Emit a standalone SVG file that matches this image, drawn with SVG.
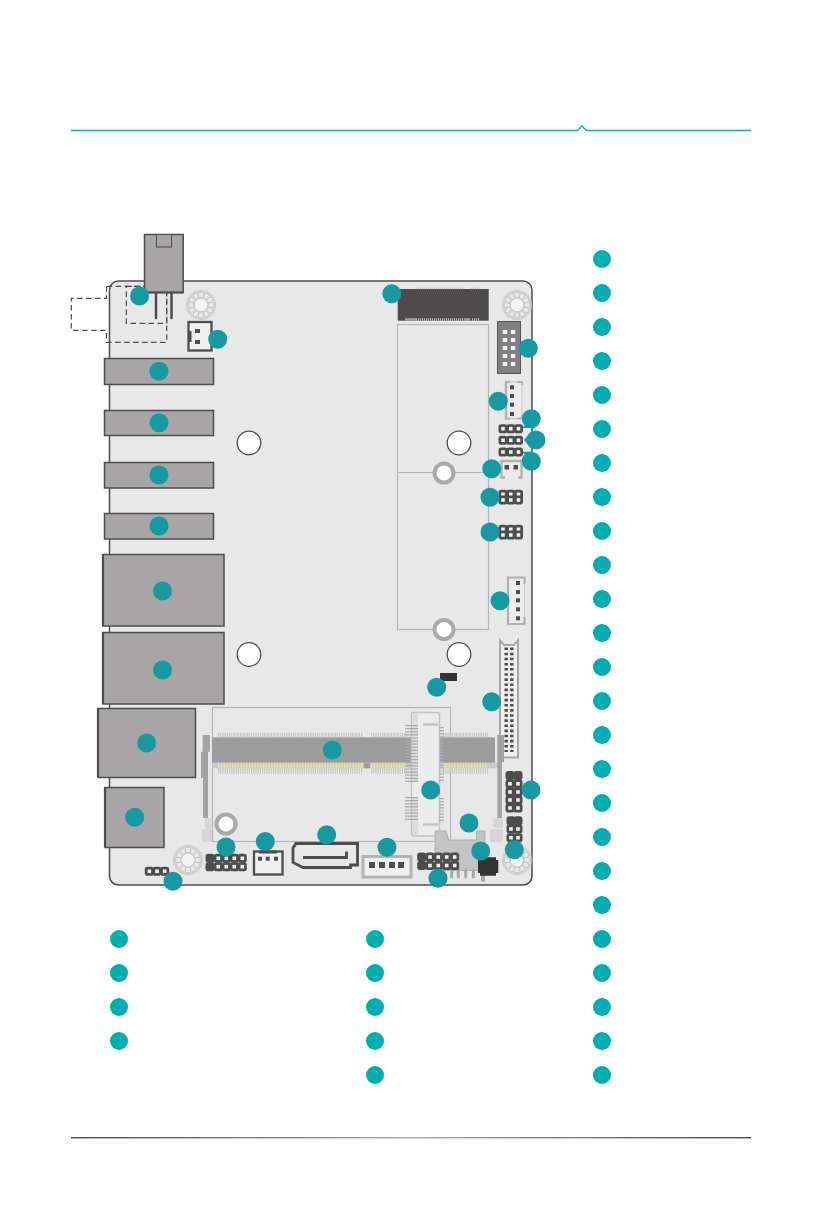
<svg xmlns="http://www.w3.org/2000/svg" width="823" height="1220" viewBox="0 0 823 1220">
<style>
.dark{fill:#a7a5a5;stroke:#4d4d4d;stroke-width:1.5}
.dot{fill:#169aa2}
.leg{fill:#00adb1}
.hole{fill:#fff;stroke:#4d4d4d;stroke-width:1.3}
.ring{fill:#fff;stroke:#a9a9a9;stroke-width:4}
.conn{fill:#f0f0f0;stroke:#4d4d4d;stroke-width:2.300}
.sq{fill:#4d4d4d}
.dash{fill:none;stroke:#4d4d4d;stroke-width:1.2;stroke-dasharray:5.500 3.500}
.pale{fill:#d6d6d6}
.lat{fill:#a3a3a3}
.outline{fill:none;stroke:#b5b5b5;stroke-width:1.2}
</style>
<defs>
<g id="mount" fill="none" stroke="#c6c6c6" stroke-width="0.900">
<circle r="14.700"/><circle r="13.500"/><circle r="6.800" fill="#f4f4f4"/>
<circle cx="10" r="3"/><circle cx="-10" r="3"/><circle cy="10" r="3"/><circle cy="-10" r="3"/>
<circle cx="8.700" cy="5" r="3"/><circle cx="5" cy="8.700" r="3"/><circle cx="-5" cy="8.700" r="3"/><circle cx="-8.700" cy="5" r="3"/>
<circle cx="-8.700" cy="-5" r="3"/><circle cx="-5" cy="-8.700" r="3"/><circle cx="5" cy="-8.700" r="3"/><circle cx="8.700" cy="-5" r="3"/>
</g>
<g id="pin"><rect x="-4.500" y="-4.500" width="9" height="9" rx="2.800" fill="#4d4d4d"/><rect x="-1.800" y="-1.800" width="3.600" height="3.600" fill="#efefef"/></g>
<g id="pin1"><rect x="-4.500" y="-4.500" width="9" height="9" rx="2.800" fill="#4d4d4d"/></g>
<linearGradient id="bl" x1="0" x2="1" y1="0" y2="0"><stop offset="0" stop-color="#4a4a4a"/><stop offset="0.5" stop-color="#a8a8a8"/><stop offset="1" stop-color="#4a4a4a"/></linearGradient>
</defs>

<g id="page-rules">
<path d="M71 130.500H577.500L582 126L586.500 130.500H751" fill="none" stroke="#00b0b5" stroke-width="1.300"/>
<rect x="71" y="1137" width="680" height="1.400" fill="url(#bl)"/>
</g>

<g id="board"><rect x="109.500" y="281" width="422.500" height="604" rx="9" fill="#e8e8e8" stroke="#4d4d4d" stroke-width="1.500"/></g>

<g id="mounts"><use href="#mount" x="201" y="305"/><use href="#mount" x="517" y="305"/><use href="#mount" x="188" y="860"/><use href="#mount" x="517" y="860"/></g>
<g id="holes">
<circle class="hole" cx="249" cy="443" r="11.800"/><circle class="hole" cx="459" cy="443" r="11.800"/><circle class="hole" cx="249" cy="654.500" r="11.800"/><circle class="hole" cx="459" cy="654.500" r="11.800"/>
</g>

<g id="m2-outline">
<rect class="outline" x="397.500" y="324.500" width="91" height="305"/><path class="outline" d="M397.500 472.500H488.500"/>
<circle class="ring" cx="444" cy="473" r="9.500"/><circle class="ring" cx="444" cy="629.500" r="9.500"/>
</g>

<g id="power-jack">
<path class="dash" d="M106.500 286.300V298.300H71.300V330.300H106.500V342.300H166.700V286.300H106.500"/>
<rect class="dash" x="126.300" y="286.300" width="40.400" height="37"/>
<rect class="dark" x="144.500" y="234.500" width="38.700" height="58"/>
<rect x="156.500" y="234.500" width="15" height="12.500" fill="#a7a5a5" stroke="#4d4d4d" stroke-width="1"/>
<path d="M144.500 292.500H183" stroke="#4d4d4d" stroke-width="2"/>
<path d="M156 293V318M171.500 293V318" stroke="#4d4d4d" stroke-width="2.500" stroke-linecap="round"/>
</g>
<g id="conn-top-left">
<rect class="conn" x="188.500" y="322" width="23" height="28.500"/>
<rect class="sq" x="188" y="331" width="3.500" height="11"/>
<rect class="sq" x="195" y="329" width="5" height="4"/><rect class="sq" x="195" y="340" width="5" height="4"/>
</g>
<g id="ports">
<rect class="dark" x="104.500" y="358.500" width="109" height="26"/>
<rect class="dark" x="104.500" y="410.500" width="109" height="25"/>
<rect class="dark" x="104.500" y="462.500" width="109" height="25.500"/>
<rect class="dark" x="104.500" y="513.500" width="109" height="25.500"/>
<rect class="dark" x="103" y="554.500" width="121" height="71.500"/>
<rect class="dark" x="103" y="632.500" width="121" height="71.500"/>
<rect class="dark" x="98" y="708.500" width="97.500" height="69"/>
<rect class="dark" x="105" y="787.500" width="59" height="60"/>
<path d="M103 554V626M103 632V704M98 708V777M105 787V847" stroke="#4d4d4d" stroke-width="2.200"/>
</g>
<g id="m2-slot">
<rect x="397.700" y="289" width="91" height="31.700" fill="#4d4b4c"/>
<path d="M416 319.500H464M472 319.500H480" stroke="#bdbdbd" stroke-width="2.500" stroke-dasharray="1 1"/>
<path d="M405 319.500H416M464 319.500H470" stroke="#a0a0a0" stroke-width="2.500"/>
<path d="M416 288.500H463M471 288.500H481" stroke="#bdbdbd" stroke-width="1.500" stroke-dasharray="1 1"/>
</g>
<g id="header-grey">
<rect x="497.500" y="321.500" width="23" height="52" fill="#808080" stroke="#555" stroke-width="1"/>
<path d="M505 330V366M513 330V366" stroke="#efefef" stroke-width="4.500" stroke-dasharray="4 4"/>
</g>
<g id="conn-4v">
<rect x="506" y="382" width="16" height="36.500" fill="#ececec" stroke="#c8c8c8" stroke-width="1"/>
<path d="M510 382H506V418.500H510" fill="none" stroke="#b3b3b3" stroke-width="2.500"/>
<path d="M517 382H522.300V385M517 418.500H522.300V415" fill="none" stroke="#b3b3b3" stroke-width="2"/>
<rect class="sq" x="510" y="385.300" width="4" height="4"/><rect class="sq" x="510" y="394" width="4" height="4"/><rect class="sq" x="510" y="402.700" width="4" height="4"/><rect class="sq" x="510" y="412" width="4" height="4"/>
</g>
<g id="hdr-3x3">
<use href="#pin" x="503" y="428.700"/><use href="#pin" x="510.800" y="428.700"/><use href="#pin" x="518.500" y="428.700"/>
<use href="#pin" x="503" y="440.300"/><use href="#pin" x="510.800" y="440.300"/><use href="#pin" x="518.500" y="440.300"/>
<use href="#pin" x="503" y="452"/><use href="#pin" x="510.800" y="452"/><use href="#pin" x="518.500" y="452"/>
</g>
<g id="conn-2">
<rect x="501.500" y="461" width="20" height="17" fill="#ebebeb"/>
<path d="M501.500 478V461H521.500V478M500.500 477.500H505M518 477.500H522.500" fill="none" stroke="#b0b0b0" stroke-width="2.300"/>
<rect class="sq" x="504.500" y="465" width="4.500" height="4.500"/><rect class="sq" x="513.500" y="465" width="4.500" height="4.500"/>
</g>
<g id="hdr-a">
<use href="#pin" x="503" y="494.300"/><use href="#pin" x="510.800" y="494.300"/><use href="#pin" x="518.500" y="494.300"/>
<use href="#pin" x="503" y="500"/><use href="#pin" x="510.800" y="500"/><use href="#pin" x="518.500" y="500"/>
</g>
<g id="hdr-b">
<use href="#pin" x="503" y="529.300"/><use href="#pin" x="510.800" y="529.300"/><use href="#pin" x="518.500" y="529.300"/>
<use href="#pin" x="503" y="535"/><use href="#pin" x="510.800" y="535"/><use href="#pin" x="518.500" y="535"/>
</g>
<g id="conn-5v">
<rect x="508" y="578" width="16.500" height="46" fill="#ececec" stroke="#c8c8c8" stroke-width="1"/>
<path d="M508 578V624M507 577.500H524.500M507 624H524.500M524.500 577V584M524.500 617V624.500" fill="none" stroke="#b0b0b0" stroke-width="2.200"/>
<rect class="sq" x="516" y="581" width="4" height="4"/><rect class="sq" x="516" y="590" width="4" height="4"/><rect class="sq" x="516" y="598.300" width="4" height="4"/><rect class="sq" x="516" y="607.300" width="4" height="4"/><rect class="sq" x="516" y="616.300" width="4" height="4"/>
</g>
<g id="lvds">
<path d="M500 640.500L504 645H514L518 640.500V757.500H500Z" fill="#efefef" stroke="#a8a8a8" stroke-width="2"/>
<path d="M506.200 647.500V752M511.800 647.500V752" stroke="#4d4d4d" stroke-width="3.400" stroke-dasharray="2.600 2.530"/>
</g>
<g id="jumper"><rect x="440" y="673" width="17" height="8" fill="#333"/></g>

<g id="sodimm">
<rect class="outline" x="212.500" y="707.500" width="238" height="134"/>
<rect x="212" y="737.300" width="283" height="25.500" fill="#9c9c9c"/>
<rect x="212" y="762.800" width="288" height="5.500" fill="#c9c9c9"/>
<path d="M218 765.500H363M371 765.500H407M443 765.500H488" stroke="#e7e59a" stroke-width="5" stroke-dasharray="1.500 1.300"/>
<path d="M218 735H363M371 735H407M443 735H488" stroke="#c6c6c6" stroke-width="4.500" stroke-dasharray="1.200 1"/>
<path d="M218 771H363M371 771H407M443 771H488" stroke="#c6c6c6" stroke-width="5.500" stroke-dasharray="1.200 1"/>
<rect x="364" y="762.800" width="6" height="5.500" fill="#9c9c9c"/>
<path class="lat" d="M202.700 735H210V751.700H208V818H203V778H201V751.700H202.700Z"/>
<path class="lat" d="M497.300 735H504V762H502V818H497.300V762Z"/>
<rect class="pale" x="205" y="818" width="6.500" height="11" rx="3"/>
<rect class="pale" x="202" y="829" width="10" height="13" rx="1.500"/>
<rect class="pale" x="493" y="818" width="10" height="10" rx="3"/>
<rect class="pale" x="490" y="829" width="13" height="13" rx="1.500"/>
<circle class="ring" cx="226" cy="824" r="9.500"/>
</g>
<g id="mpcie">
<rect x="411.500" y="712.500" width="28" height="123.500" rx="2" fill="#ececec" stroke="#c3c3c3" stroke-width="1.500"/>
<path d="M412 713H418V782H412ZM412 797H418V835H412Z" fill="#dcdcdc"/>
<path d="M411.500 725V782M411.500 797V820" stroke="#ababab" stroke-width="13" stroke-dasharray="1.200 1.900"/>
<path d="M441.500 727V783M441.500 798V823" stroke="#ababab" stroke-width="5" stroke-dasharray="1.200 1.900"/>
<path d="M423 724.500H438M423 824.500H438" stroke="#c3c3c3" stroke-width="2.500"/>
</g>
<g id="hdr-right1">
<use href="#pin1" x="510" y="775.500"/><use href="#pin1" x="518" y="775.500"/>
<use href="#pin" x="510" y="783.800"/><use href="#pin" x="518" y="783.800"/>
<use href="#pin" x="510" y="792"/><use href="#pin" x="518" y="792"/>
<use href="#pin" x="510" y="800"/><use href="#pin" x="518" y="800"/>
<use href="#pin" x="510" y="808"/><use href="#pin" x="518" y="808"/>
</g>
<g id="hdr-right2">
<use href="#pin1" x="511" y="820.700"/><use href="#pin1" x="518" y="820.700"/>
<use href="#pin" x="511" y="829"/><use href="#pin" x="518" y="829"/>
<use href="#pin" x="511" y="837.700"/><use href="#pin" x="518" y="837.700"/>
</g>
<g id="batt">
<path d="M435 831H446L448.500 840H476.700V831H485V870.500H435Z" fill="#c4c4c4" stroke="#adadad" stroke-width="1"/>
<path d="M451.700 870V877M458.300 870V877M465.700 870V877M473.300 870V877" stroke="#a9a9a9" stroke-width="3" stroke-linecap="round"/>
<path d="M483 874V880" stroke="#a9a9a9" stroke-width="4" stroke-linecap="round"/>
<path d="M480 857.300H496V860H498.300V873H496V875.700H480V873H478V860H480Z" fill="#333"/>
</g>
<g id="hdr-bottom">
<use href="#pin1" x="421.700" y="857"/><use href="#pin" x="430" y="857"/><use href="#pin" x="438.300" y="857"/><use href="#pin" x="446.700" y="857"/><use href="#pin" x="454.700" y="857"/>
<use href="#pin1" x="421.700" y="865.500"/><use href="#pin" x="430" y="865.500"/><use href="#pin" x="438.300" y="865.500"/><use href="#pin" x="446.700" y="865.500"/><use href="#pin" x="454.700" y="865.500"/>
</g>
<g id="hdr-left">
<use href="#pin1" x="210" y="858.300"/><use href="#pin" x="218.300" y="858.300"/><use href="#pin" x="226.300" y="858.300"/><use href="#pin" x="234.300" y="858.300"/><use href="#pin" x="242.300" y="858.300"/>
<use href="#pin1" x="210" y="866.700"/><use href="#pin" x="218.300" y="866.700"/><use href="#pin" x="226.300" y="866.700"/><use href="#pin" x="234.300" y="866.700"/><use href="#pin" x="242.300" y="866.700"/>
</g>
<g id="hdr-3">
<use href="#pin" x="149.300" y="871.300"/><use href="#pin" x="157" y="871.300"/><use href="#pin" x="164.700" y="871.300"/>
</g>
<g id="fan">
<rect class="conn" x="254" y="851.500" width="28.500" height="23"/>
<rect class="sq" x="259" y="850.500" width="18" height="3"/>
<rect class="sq" x="258" y="856.700" width="4" height="4"/><rect class="sq" x="265.700" y="856.700" width="4" height="4"/><rect class="sq" x="274" y="856.700" width="4" height="4"/>
</g>
<g id="sata">
<path d="M296 843.500H357.500V865H350.500V867.500H303L293 862.500V848Z" fill="#e8e8e8" stroke="#4d4d4d" stroke-width="2.800"/>
<path d="M303 857.500H346.500V851.500" fill="none" stroke="#4d4d4d" stroke-width="2.800"/>
</g>
<g id="conn-bottom">
<rect x="363" y="856.500" width="48" height="20.500" fill="#f0f0f0" stroke="#b3b3b3" stroke-width="3"/>
<rect class="sq" x="369" y="862" width="6" height="6"/><rect class="sq" x="379" y="862" width="6" height="6"/><rect class="sq" x="389" y="862" width="6" height="6"/><rect class="sq" x="398" y="862" width="6" height="6"/>
</g>

<g id="callouts">
<circle class="dot" cx="139.500" cy="296" r="9.500"/><circle class="dot" cx="217.700" cy="339.300" r="9.500"/>
<circle class="dot" cx="159" cy="371.300" r="9.500"/><circle class="dot" cx="159" cy="422.700" r="9.500"/><circle class="dot" cx="159" cy="475" r="9.500"/><circle class="dot" cx="159" cy="526" r="9.500"/>
<circle class="dot" cx="162.500" cy="591" r="9.500"/><circle class="dot" cx="162.500" cy="670" r="9.500"/><circle class="dot" cx="146.700" cy="743" r="9.500"/><circle class="dot" cx="134.700" cy="817.300" r="9.500"/>
<circle class="dot" cx="226" cy="847" r="9.500"/><circle class="dot" cx="265.300" cy="841.500" r="9.500"/><circle class="dot" cx="173" cy="881.300" r="9.500"/>
<circle class="dot" cx="326.700" cy="834.700" r="9.500"/><circle class="dot" cx="387" cy="847.300" r="9.500"/><circle class="dot" cx="438" cy="878.300" r="9.500"/>
<circle class="dot" cx="332.300" cy="750" r="9.500"/><circle class="dot" cx="430.700" cy="790" r="9.500"/><circle class="dot" cx="469" cy="823" r="9.500"/><circle class="dot" cx="480.700" cy="851" r="9.500"/><circle class="dot" cx="514.300" cy="849.700" r="9.500"/><circle class="dot" cx="531" cy="790" r="9.500"/>
<circle class="dot" cx="491.700" cy="701.700" r="9.500"/><circle class="dot" cx="436.700" cy="687.300" r="9.500"/><circle class="dot" cx="500" cy="600.700" r="9.500"/>
<circle class="dot" cx="490" cy="532" r="9.500"/><circle class="dot" cx="490" cy="497.300" r="9.500"/><circle class="dot" cx="491.700" cy="468.700" r="9.500"/>
<circle class="dot" cx="531.300" cy="461.300" r="9.500"/><path class="dot" d="M522 451.800H531V461Z"/>
<circle class="dot" cx="536" cy="440" r="9.500"/><path class="dot" d="M524 440L531 432V448Z"/>
<circle class="dot" cx="531.300" cy="418.700" r="9.500"/><path class="dot" d="M522 428H531V419Z"/>
<circle class="dot" cx="498.300" cy="401.300" r="9.500"/><circle class="dot" cx="528.300" cy="348.300" r="9.500"/><circle class="dot" cx="391.800" cy="293.700" r="9.500"/>
</g>

<g id="legend-right">
<circle class="leg" cx="602" cy="259" r="9"/><circle class="leg" cx="602" cy="293" r="9"/><circle class="leg" cx="602" cy="327" r="9"/><circle class="leg" cx="602" cy="361" r="9"/><circle class="leg" cx="602" cy="395" r="9"/>
<circle class="leg" cx="602" cy="429" r="9"/><circle class="leg" cx="602" cy="463" r="9"/><circle class="leg" cx="602" cy="497" r="9"/><circle class="leg" cx="602" cy="531" r="9"/><circle class="leg" cx="602" cy="565" r="9"/>
<circle class="leg" cx="602" cy="599" r="9"/><circle class="leg" cx="602" cy="633" r="9"/><circle class="leg" cx="602" cy="667" r="9"/><circle class="leg" cx="602" cy="701" r="9"/><circle class="leg" cx="602" cy="735" r="9"/>
<circle class="leg" cx="602" cy="769" r="9"/><circle class="leg" cx="602" cy="803" r="9"/><circle class="leg" cx="602" cy="837" r="9"/><circle class="leg" cx="602" cy="871" r="9"/><circle class="leg" cx="602" cy="905" r="9"/>
<circle class="leg" cx="602" cy="939" r="9"/><circle class="leg" cx="602" cy="973" r="9"/><circle class="leg" cx="602" cy="1007" r="9"/><circle class="leg" cx="602" cy="1041" r="9"/><circle class="leg" cx="602" cy="1075" r="9"/>
</g>
<g id="legend-mid">
<circle class="leg" cx="375" cy="939" r="9"/><circle class="leg" cx="375" cy="973" r="9"/><circle class="leg" cx="375" cy="1007" r="9"/><circle class="leg" cx="375" cy="1041" r="9"/><circle class="leg" cx="375" cy="1075" r="9"/>
</g>
<g id="legend-left">
<circle class="leg" cx="119" cy="939" r="9"/><circle class="leg" cx="119" cy="973" r="9"/><circle class="leg" cx="119" cy="1007" r="9"/><circle class="leg" cx="119" cy="1041" r="9"/>
</g>
</svg>
